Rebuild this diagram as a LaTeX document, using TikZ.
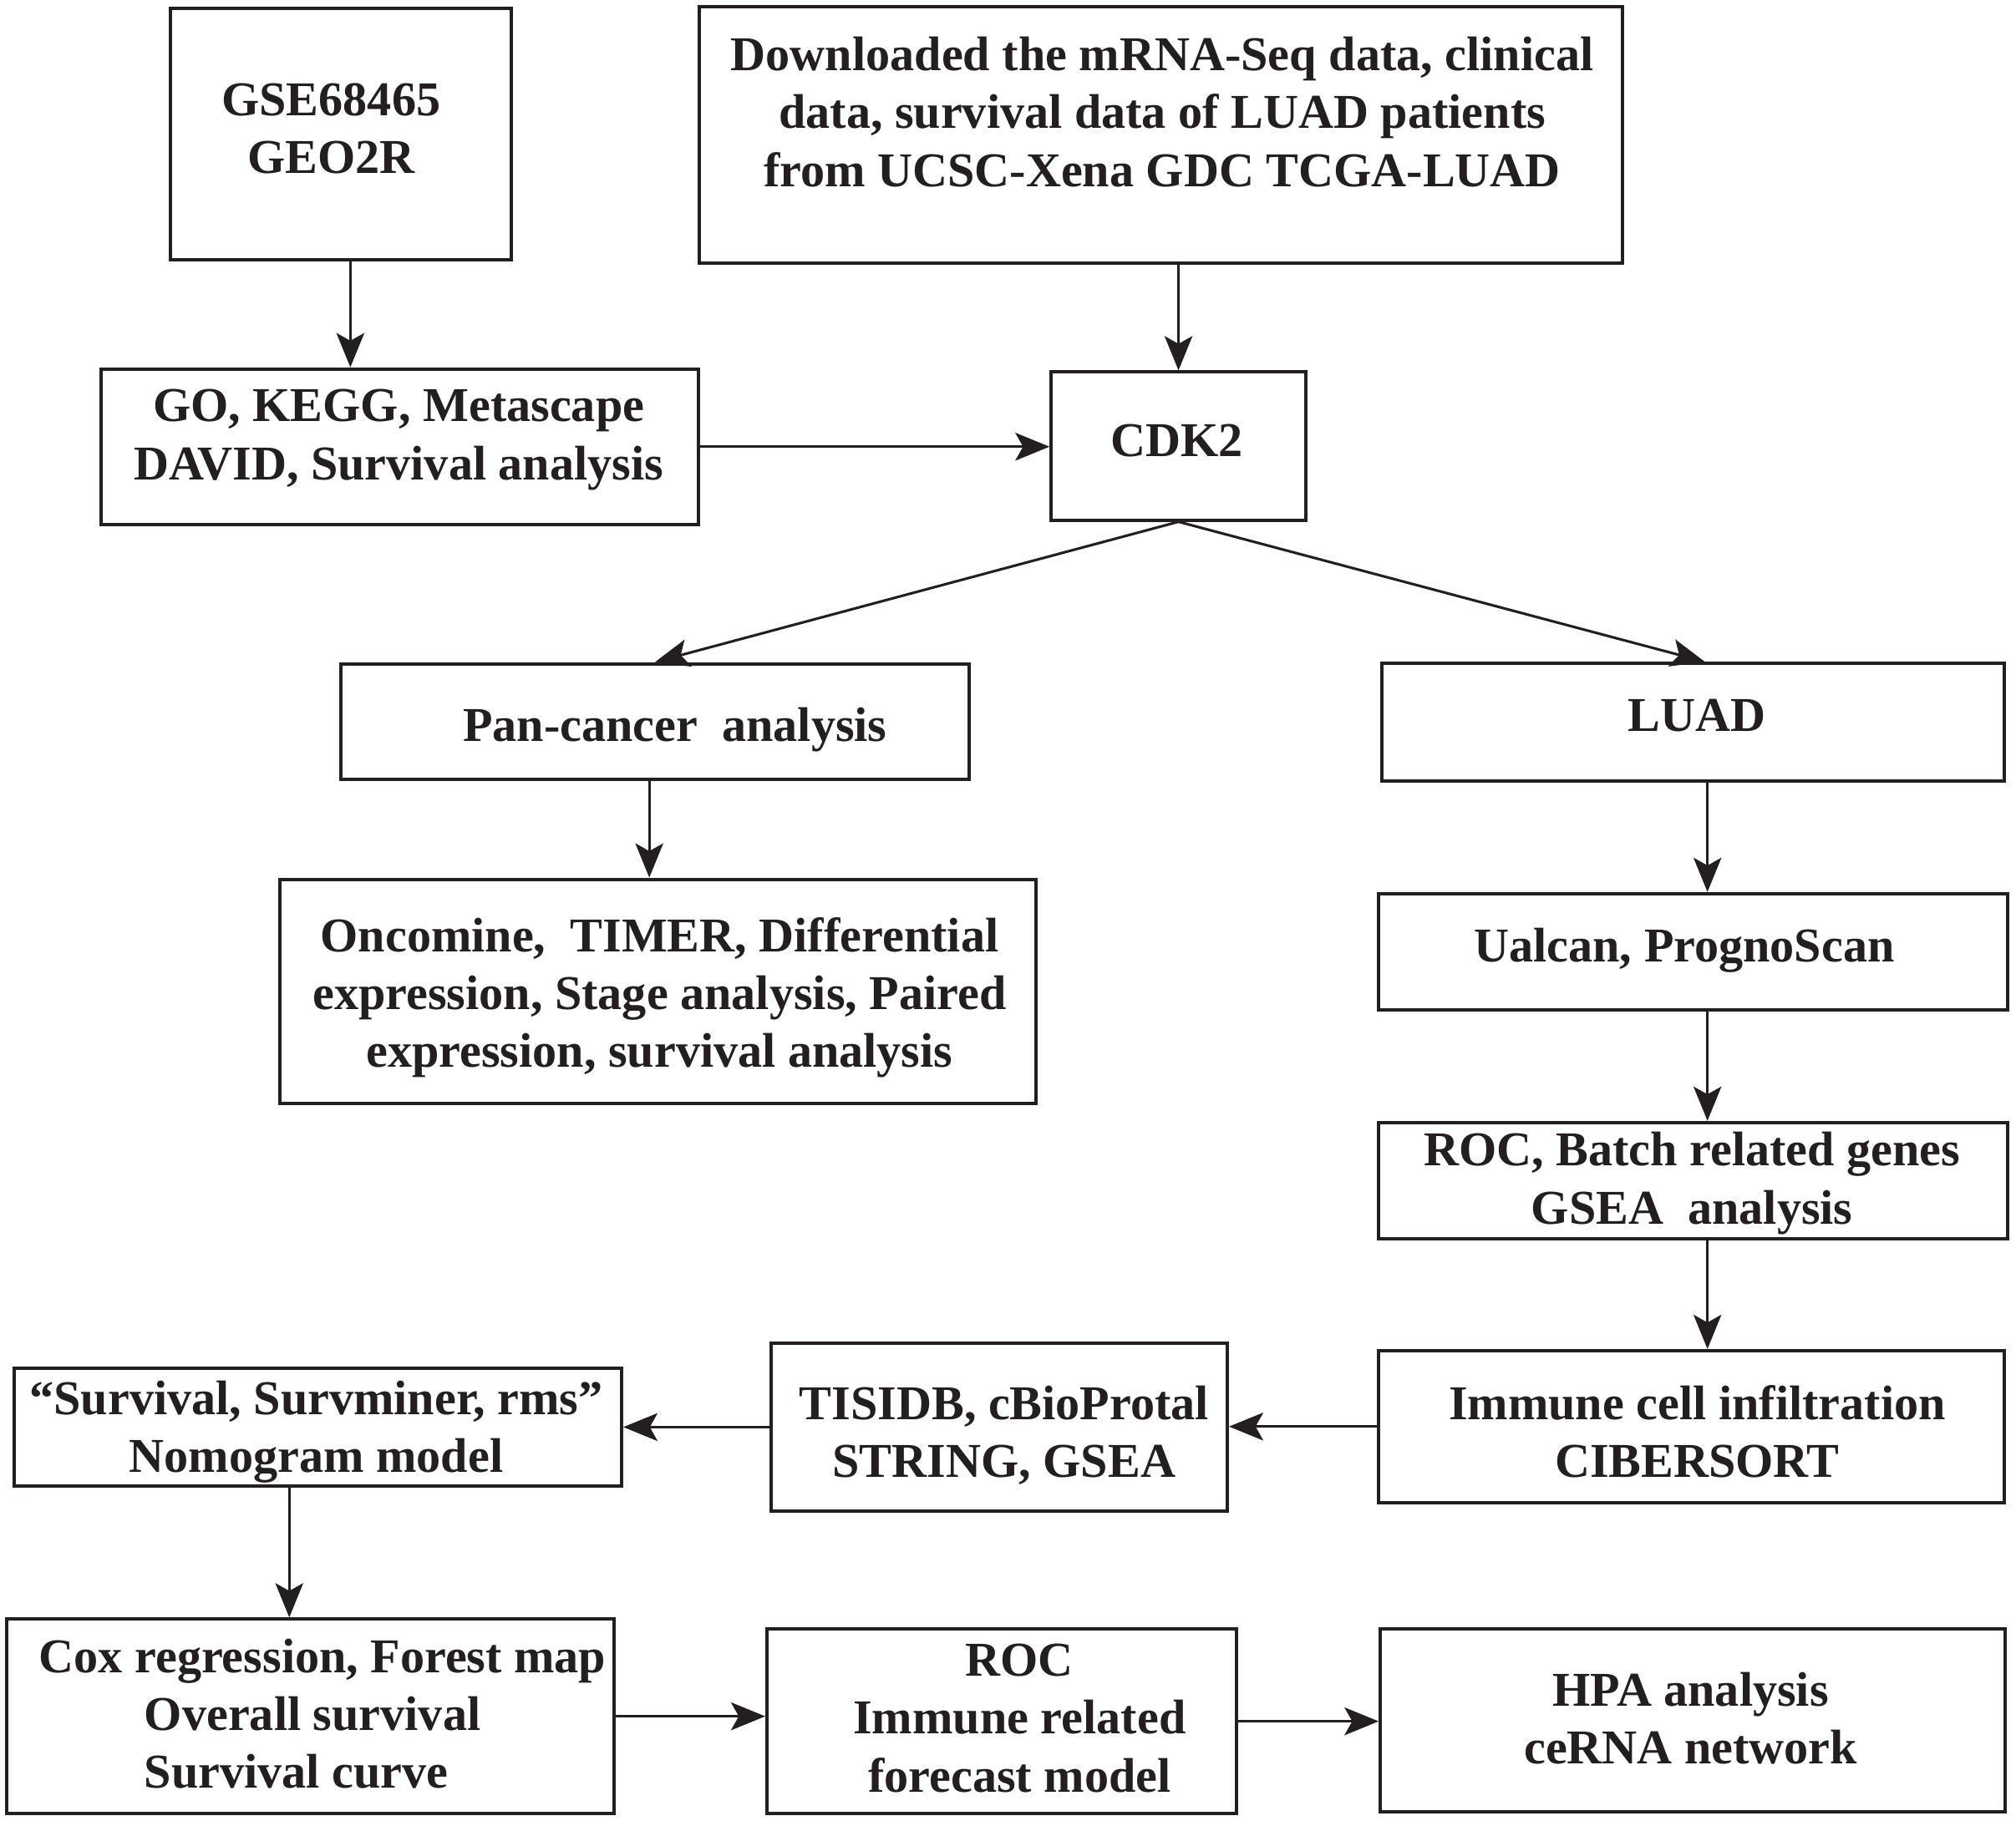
\documentclass[tikz,border=0pt]{standalone}
\usepackage{fontspec}
\setmainfont{Liberation Serif}
\usetikzlibrary{arrows.meta,fit}
\definecolor{ink}{HTML}{231F20}
\begin{document}
\begin{tikzpicture}[x=0.5pt,y=-0.5pt,
  box/.style={draw=ink, line width=1.3pt, inner sep=0pt, rectangle},
  txt/.style={font=\fontsize{18.9}{22.5}\selectfont\bfseries, text=ink, align=center, inner sep=0pt},
  arr/.style={draw=ink, line width=1pt, -{Stealth[length=13.3pt,width=10.8pt,inset=3pt]}}]
\useasboundingbox (0,0) rectangle (1568,1416);
% boxes
\node[box, fit={(132.5,6.4) (397.5,202)}] (gse) {};
\node[box, fit={(544,5) (1262,204.5)}] (dl) {};
\node[box, fit={(78.5,287) (543.5,408)}] (go) {};
\node[box, fit={(817.6,289.4) (1015.6,404.6)}] (cdk) {};
\node[box, fit={(265,516.3) (754,606.5)}] (pan) {};
\node[box, fit={(1074.6,516.1) (1558.6,607.3)}] (luad) {};
\node[box, fit={(217.5,684) (806,858.5)}] (onc) {};
\node[box, fit={(1072,695.2) (1561.6,785.7)}] (ual) {};
\node[box, fit={(1072,873.2) (1561.6,963.7)}] (rocb) {};
\node[box, fit={(1072,1050.7) (1558.6,1168.8)}] (imm) {};
\node[box, fit={(600,1045) (954.6,1175.3)}] (tis) {};
\node[box, fit={(11,1064.7) (483.5,1156.2)}] (nom) {};
\node[box, fit={(5,1259.5) (477.5,1410.8)}] (cox) {};
\node[box, fit={(596.5,1267.3) (962,1410.8)}] (roc2) {};
\node[box, fit={(1073.6,1267) (1559.6,1409.4)}] (hpa) {};
% texts
\node[txt] (gse-t) at (257.5,103.5) {\strut GSE68465\\GEO2R\strut};
\node[txt] (dl-t) at (904,91) {\strut Downloaded the mRNA-Seq data, clinical\\data, survival data of LUAD patients\\from UCSC-Xena GDC TCGA-LUAD\strut};
\node[txt] (go-t) at (310,341.5) {\strut GO, KEGG, Metascape\\DAVID, Survival analysis\strut};
\node[txt] (cdk-t) at (915.3,346) {\strut CDK2\strut};
\node[txt] (pan-t) at (525,568) {\strut Pan-cancer\ \ analysis\strut};
\node[txt] (luad-t) at (1319.6,560) {\strut LUAD\strut};
\node[txt] (onc-t) at (513,776.4) {\strut Oncomine,\ \ TIMER, Differential\\expression, Stage analysis, Paired\\expression, survival analysis\strut};
\node[txt] (ual-t) at (1310,739) {\strut Ualcan, PrognoScan\strut};
\node[txt] (rocb-t) at (1316,920.5) {\strut ROC, Batch related genes\\GSEA\ \ analysis\strut};
\node[txt] (imm-t) at (1320,1117.6) {\strut Immune cell infiltration\\CIBERSORT\strut};
\node[txt] (tis-t) at (781,1117.6) {\strut TISIDB, cBioProtal\\STRING, GSEA\strut};
\node[txt] (nom-t) at (246,1114) {\strut “Survival, Survminer, rms”\\Nomogram model\strut};
\node[txt, align=left, anchor=west] (cox-t) at (30,1337) {\strut Cox regression, Forest map\\\hspace*{41pt}Overall survival\\\hspace*{41pt}Survival curve\strut};
\node[txt] (roc2-t) at (793,1340) {\strut ROC\\Immune related\\forecast model\strut};
\node[txt] (hpa-t) at (1315,1340.6) {\strut HPA analysis\\ceRNA network\strut};
% helper coordinates
\coordinate (xa) at (272.5,0);
\coordinate (xl) at (1326,0);
\coordinate (xp) at (505,0);
\coordinate (xr) at (1328,0);
\coordinate (xn) at (225,0);
% connectors
\draw[arr] (gse.south -| xa) -- (go.north -| xa);
\draw[arr] (dl.south -| cdk.north) -- (cdk.north);
\draw[arr] (go.east) -- (go.east -| cdk.west);
\draw[arr] (cdk.south) -- (pan.north);
\draw[arr] (cdk.south) -- (luad.north -| xl);
\draw[arr] (pan.south -| xp) -- (onc.north -| xp);
\draw[arr] (luad.south -| xr) -- (ual.north -| xr);
\draw[arr] (ual.south -| xr) -- (rocb.north -| xr);
\draw[arr] (rocb.south -| xr) -- (imm.north -| xr);
\draw[arr] (imm.west) -- (imm.west -| tis.east);
\draw[arr] (tis.west) -- (tis.west -| nom.east);
\draw[arr] (nom.south -| xn) -- (cox.north -| xn);
\draw[arr] (cox.east) -- (cox.east -| roc2.west);
\draw[arr] (roc2.east) -- (roc2.east -| hpa.west);
\end{tikzpicture}
\end{document}
